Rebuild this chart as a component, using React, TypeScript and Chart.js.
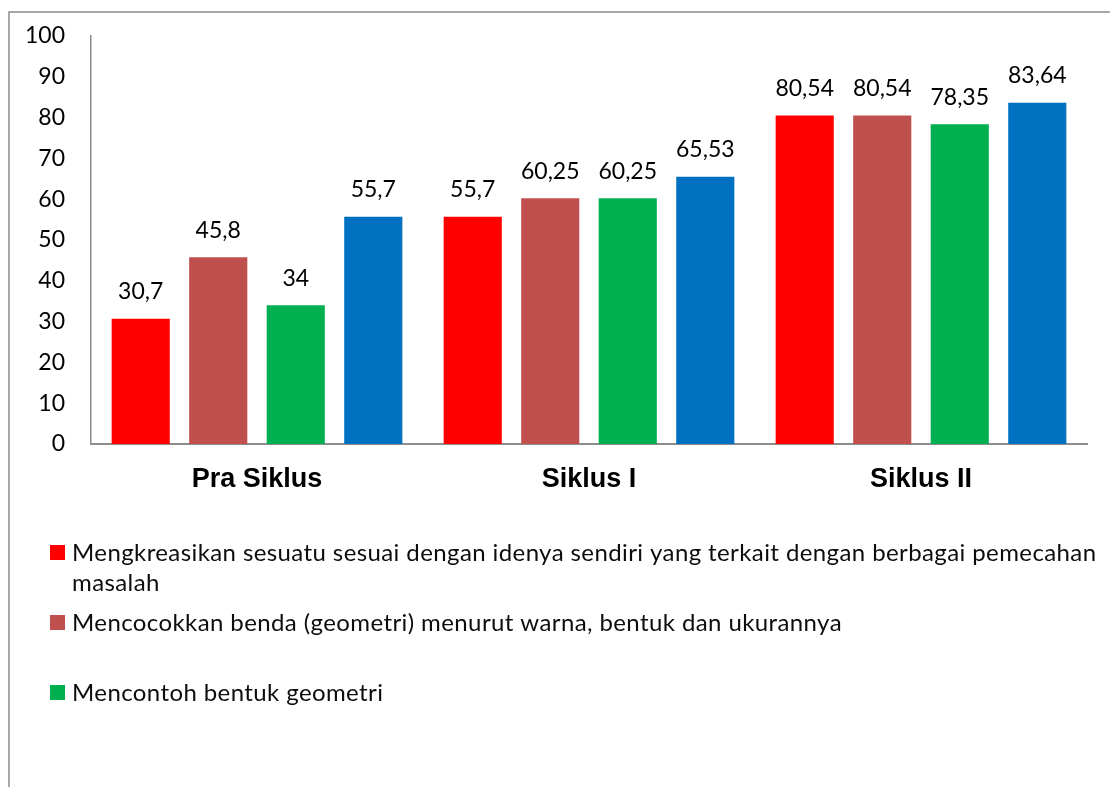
import React, { useEffect, useRef } from "react";
import { Chart, registerables } from "chart.js";

Chart.register(...registerables);

const categories = ["Pra Siklus", "Siklus I", "Siklus II"];
const seriesNames = [
  "Mengkreasikan sesuatu sesuai dengan idenya sendiri yang terkait dengan berbagai pemecahan masalah",
  "Mencocokkan benda (geometri) menurut warna, bentuk dan ukurannya",
  "Mencontoh bentuk geometri",
  "Mengenal konsep bentuk geometri",
];
const series1 = [30.7, 55.7, 80.54];
const series2 = [45.8, 60.25, 80.54];
const series3 = [34, 60.25, 78.35];
const series4 = [55.7, 65.53, 83.64];
const colors = ["#FF0000", "#C0504D", "#00B050", "#0070C0"];
const yTicks = [0, 10, 20, 30, 40, 50, 60, 70, 80, 90, 100];
// legend lines as shown (wrapped) in the reference
const legendLines = [
  ["Mengkreasikan sesuatu sesuai dengan idenya sendiri yang terkait dengan berbagai pemecahan", "masalah"],
  ["Mencocokkan benda (geometri) menurut warna, bentuk dan ukurannya"],
  ["Mencontoh bentuk geometri"],
];

const TEXT_FONT = "Lato, 'Open Sans', sans-serif";

const framePlugin = {
  id: "frame",
  afterDraw(chart: any) {
    const ctx = chart.ctx;
    ctx.save();
    ctx.strokeStyle = "#8C8C8C";
    ctx.lineWidth = 1.5;
    ctx.beginPath();
    ctx.moveTo(9, 787);
    ctx.lineTo(9, 12);
    ctx.lineTo(1110, 12);
    ctx.stroke();

    // data labels
    ctx.fillStyle = "#000000";
    ctx.font = `23px ${TEXT_FONT}`;
    ctx.textAlign = "center";
    ctx.textBaseline = "middle";
    chart.data.datasets.forEach((ds: any, i: number) => {
      const meta = chart.getDatasetMeta(i);
      meta.data.forEach((bar: any, j: number) => {
        const v = ds.data[j];
        const txt = String(v).replace(".", ",");
        ctx.fillText(txt, bar.x, bar.y - 27);
      });
    });

    // legend
    const itemY = [553, 623, 693];
    ctx.textAlign = "left";
    ctx.font = `24px ${TEXT_FONT}`;
    try {
      ctx.letterSpacing = "0.4px";
    } catch (e) {}
    legendLines.forEach((lines, i) => {
      ctx.fillStyle = colors[i];
      ctx.fillRect(50, itemY[i] - 8, 15, 15);
      ctx.fillStyle = "#0D0D0D";
      lines.forEach((ln, k) => {
        ctx.fillText(ln, 72, itemY[i] + k * 30);
      });
    });
    ctx.restore();
  },
};

export default function App() {
  const ref = useRef<HTMLCanvasElement>(null);
  useEffect(() => {
    if (!ref.current) return;
    const chart = new Chart(ref.current, {
      type: "bar",
      data: {
        labels: categories,
        datasets: [series1, series2, series3, series4].map((d, i) => ({
          label: seriesNames[i],
          data: d,
          backgroundColor: colors[i],
          borderWidth: 0,
          categoryPercentage: 0.934,
          barPercentage: 0.75,
        })),
      },
      options: {
        responsive: false,
        animation: false,
        layout: { padding: { left: 0, top: 36, right: 23, bottom: 283 } },
        plugins: { legend: { display: false }, tooltip: { enabled: false } },
        scales: {
          x: {
            grid: { display: false, drawTicks: false },
            border: { display: true, color: "#8C8C8C", width: 2 },
            ticks: {
              color: "#000000",
              font: { family: "'Liberation Sans', Arial, sans-serif", size: 27, weight: "bold" },
              padding: 19,
            },
            afterFit(scale: any) {
              scale.height = 60;
            },
          },
          y: {
            min: 0,
            max: 100,
            afterBuildTicks(scale: any) {
              scale.ticks = yTicks.map((v) => ({ value: v }));
            },
            grid: { display: false, drawTicks: false },
            border: { display: true, color: "#8C8C8C", width: 1.5 },
            ticks: {
              color: "#000000",
              font: { family: TEXT_FONT, size: 23 },
              padding: 26,
            },
            afterFit(scale: any) {
              scale.width = 91;
              scale.paddingTop = 0;
              scale.paddingBottom = 0;
            },
          },
        },
      },
      plugins: [framePlugin],
    });
    return () => chart.destroy();
  }, []);
  return (
    <div style={{ position: "fixed", left: 0, top: 0, width: 1110, height: 787, background: "#fff" }}>
      <canvas ref={ref} width={1110} height={787} style={{ width: 1110, height: 787 }} />
    </div>
  );
}
